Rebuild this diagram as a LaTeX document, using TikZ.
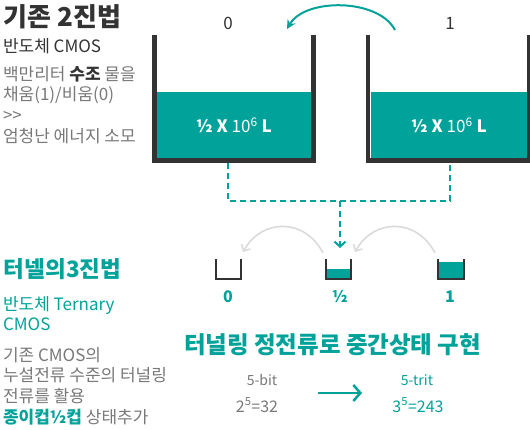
\documentclass[tikz,border=0pt]{standalone}
\usepackage{fontspec}
\setmainfont{Noto Sans CJK KR}
\usetikzlibrary{arrows.meta, positioning}
\definecolor{waterteal}{RGB}{0,162,154}
\definecolor{wallgray}{RGB}{51,51,51}
\definecolor{textgray}{RGB}{120,120,120}
\definecolor{arcgray}{RGB}{218,218,218}

\begin{document}
\begin{tikzpicture}[
  x=1pt, y=-1pt,
  every node/.style={inner sep=0pt, outer sep=0pt},
  heading/.style={anchor=base west, font=\fontsize{26}{28}\selectfont\bfseries, text=wallgray},
  tealheading/.style={anchor=base west, font=\fontsize{22.5}{24}\selectfont\bfseries, text=waterteal},
  body/.style={anchor=base west, align=left, font=\fontsize{17}{20.7}\selectfont},
  water/.style={fill=waterteal, text=white, font=\fontsize{17}{18}\selectfont\bfseries},
  tankwall/.style={draw=wallgray, line width=4.5pt},
  cupwall/.style={draw=wallgray, line width=2pt},
  flow/.style={draw=waterteal, line width=2pt, dash pattern=on 6pt off 4pt},
  cuplabel/.style={font=\fontsize{16}{18}\selectfont\bfseries, text=waterteal}
]
\useasboundingbox (0,0) rectangle (530,430);

% left column, binary
\node[heading] (bintitle) at (4,27) {기존 2진법};
\node[body, text=wallgray] (binsub) at (3,53) {반도체 CMOS};
\node[body, text=textgray, anchor=north west] (bintext) at (3,66)
  {백만리터 {\bfseries\color{wallgray}수조} 물을\\채움(1)/비움(0)\\{>}{>}\\엄청난 에너지 소모};

% big tanks
\node[water, minimum width=154pt, minimum height=66pt] (water0) at (234,125)
  {½ X {\mdseries 10\textsuperscript{6}} L};
\node[water, minimum width=156pt, minimum height=66pt] (water1) at (449,125)
  {½ X {\mdseries 10\textsuperscript{6}} L};
\draw[tankwall] (154.5,35) |- (313.5,160.5) -- (313.5,35);
\draw[tankwall] (368,35) |- (529,160.5) -- (529,35);
\node[font=\fontsize{17}{18}\selectfont, text=wallgray] (zero) at (228,23) {0};
\node[font=\fontsize{17}{18}\selectfont, text=wallgray] (one) at (450,23) {1};
\coordinate (swapstart) at (395,30);
\coordinate (swapend) at (287,29);
\draw[waterteal, line width=2pt, -{Stealth[length=9pt, width=9pt]}]
  (swapstart) .. controls (378,-2) and (305,-2) .. (swapend);

% dashed merge
\coordinate (drop0) at (228,163);
\coordinate (drop1) at (450,163);
\coordinate (merge) at (340,201);
\coordinate (halfin) at (340,248);
\draw[flow] (drop0) |- (merge) -| (drop1);
\draw[flow, -{Straight Barb[length=5pt, width=11pt]}] (merge) -- (halfin);

% small cups
\fill[waterteal] (326,269) rectangle (351,279);
\fill[waterteal] (438,262) rectangle (464,279);
\draw[cupwall] (216,259) |- (241,279) -- (241,259);
\draw[cupwall] (326,259) |- (351,279) -- (351,259);
\draw[cupwall] (438,259) |- (464,279) -- (464,259);
\node[cuplabel] (cup0) at (228,297) {0};
\node[cuplabel] (cuphalf) at (340,297) {½};
\node[cuplabel] (cup1) at (450,297) {1};
\coordinate (arcA) at (323,253);
\coordinate (arcB) at (243,252);
\coordinate (arcC) at (435,253);
\coordinate (arcD) at (355,252);
\draw[arcgray, line width=1.6pt, -{Straight Barb[length=5pt, width=10pt]}]
  (arcA) .. controls (305,218) and (262,218) .. (arcB);
\draw[arcgray, line width=1.6pt, -{Straight Barb[length=5pt, width=10pt]}]
  (arcC) .. controls (417,218) and (374,218) .. (arcD);

% left column, ternary
\node[tealheading] (tertitle) at (4,278) {터넬의3진법};
\node[body, text=waterteal, anchor=north west] (tersub) at (3,296) {반도체 Ternary\\CMOS};
\node[body, text=textgray, anchor=north west] (tertext) at (3,347)
  {기존 CMOS의\\누설전류 수준의 터널링\\전류를 활용\\{\bfseries\color{waterteal}종이컵½컵} 상태추가};

% bottom summary
\node[tealheading, font=\fontsize{23.5}{26}\selectfont\bfseries] (summary) at (184,353) {터널링 정전류로 중간상태 구현};
\node[font=\fontsize{14}{16}\selectfont, text=textgray, anchor=base] (bitlabel) at (262,385) {5-bit};
\node[font=\fontsize{16}{18}\selectfont, text=textgray, anchor=base] (bitcount) at (257,412) {2\textsuperscript{5}=32};
\node[font=\fontsize{14}{16}\selectfont, text=waterteal, anchor=base] (tritlabel) at (417,385) {5-trit};
\node[font=\fontsize{16}{18}\selectfont, text=waterteal, anchor=base] (tritcount) at (418,412) {3\textsuperscript{5}=243};
\coordinate (gainstart) at (318,393);
\coordinate (gainend) at (362,393);
\draw[waterteal, line width=2.5pt, -{Straight Barb[length=7pt, width=16pt]}] (gainstart) -- (gainend);
\end{tikzpicture}
\end{document}
